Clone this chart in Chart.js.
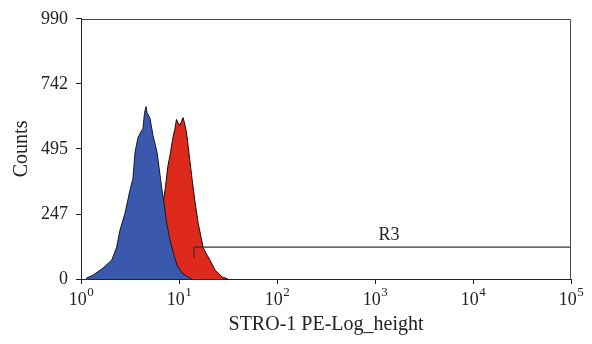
<!DOCTYPE html>
<html>
<head>
<meta charset="utf-8">
<script src="https://cdn.jsdelivr.net/npm/chart.js@4/dist/chart.umd.min.js"></script>
<style>
  html, body { margin: 0; padding: 0; background: #fff; }
  #wrap { width: 592px; height: 344px; }
</style>
</head>
<body>
<div id="wrap"><canvas id="c" width="592" height="344"></canvas></div>
<script>
// ---- data ----
const xTickValues = [1, 10, 100, 1000, 10000, 100000];
const xTickBase = "10";
const xTickExponents = ["0", "1", "2", "3", "4", "5"];
const yTickValues = [0, 247, 495, 742, 990];

// blue (control) histogram
const blueX = [1.12, 1.15, 1.33, 1.68, 2.06, 2.31, 2.50, 2.81, 3.16, 3.39, 3.56, 3.82, 3.91, 4.16, 4.29, 4.45, 4.61, 4.72, 5.06, 5.43, 5.97, 6.71, 7.05, 7.40, 8.09, 8.90, 9.54, 10.7, 12.4, 13.5];
const blueY = [0, 4, 15, 42, 72, 121, 186, 250, 338, 383, 482, 539, 546, 565, 573, 633, 656, 633, 611, 546, 482, 338, 288, 224, 148, 91, 53, 23, 8, 0];

// red (STRO-1 stained) histogram
const redX = [4.50, 5.30, 5.97, 6.55, 6.87, 7.20, 7.72, 8.09, 8.68, 9.10, 9.42, 9.77, 10.25, 10.6, 10.98, 11.37, 11.8, 12.1, 12.9, 13.7, 14.6, 15.7, 17.6, 19.3, 20.7, 23.3, 27.5, 31.6];
const redY = [0, 53, 129, 224, 288, 338, 432, 470, 539, 573, 607, 595, 584, 599, 614, 595, 565, 539, 451, 370, 290, 212, 121, 91, 72, 34, 8, 0];

// R3 gate marker
const gateX = [14.2, 14.2, 100000];
const gateY = [80, 121.5, 121.5];
const gateLabel = "R3";
const gateLabelX = 1390;

const xTitle = "STRO-1 PE-Log_height";
const yTitle = "Counts";

// ---- build ----
const toPts = (xs, ys) => xs.map((x, i) => ({ x: x, y: ys[i] }));
const FONT = "'Liberation Serif', 'DejaVu Serif', serif";

const framePlugin = {
  id: 'frame',
  afterDatasetsDraw(chart) {
    const { ctx, chartArea: a, scales } = chart;
    ctx.save();
    ctx.strokeStyle = '#4a4a4a';
    ctx.lineWidth = 1;
    ctx.beginPath();
    ctx.moveTo(Math.round(a.left) + 0.5, Math.round(a.top) + 0.5);
    ctx.lineTo(Math.round(a.right) - 0.5, Math.round(a.top) + 0.5);
    ctx.lineTo(Math.round(a.right) - 0.5, Math.round(a.bottom));
    ctx.stroke();
    // gate label
    ctx.fillStyle = '#222';
    ctx.font = "18px " + FONT;
    ctx.textAlign = 'center';
    ctx.textBaseline = 'alphabetic';
    const px = scales.x.getPixelForValue(gateLabelX);
    const py = scales.y.getPixelForValue(gateY[1]) - 7;
    ctx.fillText(gateLabel, px, py);
    ctx.restore();
  },
  afterDraw(chart) {
    // x tick labels with true superscript exponents
    const { ctx, chartArea: a, scales } = chart;
    ctx.save();
    ctx.fillStyle = '#222';
    ctx.textAlign = 'left';
    ctx.textBaseline = 'alphabetic';
    const baseFont = "18px " + FONT, supFont = "13px " + FONT;
    xTickValues.forEach((v, i) => {
      const px = scales.x.getPixelForValue(v);
      ctx.font = baseFont;
      const w1 = ctx.measureText(xTickBase).width;
      ctx.font = supFont;
      const w2 = ctx.measureText(xTickExponents[i]).width;
      const x0 = px - (w1 + w2) / 2;
      ctx.font = baseFont;
      ctx.fillText(xTickBase, x0, a.bottom + 26);
      ctx.font = supFont;
      ctx.fillText(xTickExponents[i], x0 + w1 + 0.5, a.bottom + 17);
    });
    ctx.restore();
  }
};

new Chart(document.getElementById('c'), {
  type: 'line',
  data: {
    datasets: [
      {
        label: 'gate', data: toPts(gateX, gateY), order: -1,
        borderColor: '#333', borderWidth: 1.3, pointRadius: 0, fill: false, tension: 0
      },
      {
        label: 'control', data: toPts(blueX, blueY), order: 0,
        borderColor: '#141830', borderWidth: 1, backgroundColor: 'rgb(58, 88, 172)',
        pointRadius: 0, fill: 'origin', tension: 0
      },
      {
        label: 'STRO-1', data: toPts(redX, redY), order: 1,
        borderColor: '#1a0a08', borderWidth: 1, backgroundColor: 'rgb(222, 42, 28)',
        pointRadius: 0, fill: 'origin', tension: 0
      }
    ]
  },
  options: {
    responsive: false,
    animation: false,
    devicePixelRatio: 1,
    layout: { padding: { top: 18, right: 21, left: 0, bottom: 0 } },
    plugins: { legend: { display: false }, tooltip: { enabled: false } },
    scales: {
      x: {
        type: 'logarithmic', min: 1, max: 100000,
        afterFit(s) { s.height = 65; },
        afterBuildTicks(s) { s.ticks = xTickValues.map(v => ({ value: v })); },
        grid: { drawOnChartArea: false, drawTicks: true, tickLength: 5, color: '#222' },
        border: { display: true, color: '#222', width: 1 },
        ticks: {
          color: 'rgba(0,0,0,0)', padding: 4, maxRotation: 0, autoSkip: false,
          font: { family: FONT, size: 18 },
          callback() { return ''; }
        },
        title: { display: true, text: xTitle, color: '#222', font: { family: FONT, size: 20 }, padding: { top: 0, bottom: 7 } }
      },
      y: {
        type: 'linear', min: 0, max: 990,
        afterFit(s) { s.width = 81; },
        afterBuildTicks(s) { s.ticks = yTickValues.map(v => ({ value: v })); },
        grid: { drawOnChartArea: false, drawTicks: true, tickLength: 5, color: '#222' },
        border: { display: true, color: '#222', width: 1 },
        ticks: { color: '#222', padding: 8, font: { family: FONT, size: 18 } },
        title: { display: true, text: yTitle, color: '#222', font: { family: FONT, size: 20 }, padding: { top: 10, bottom: 0 } }
      }
    }
  },
  plugins: [framePlugin]
});
</script>
</body>
</html>
